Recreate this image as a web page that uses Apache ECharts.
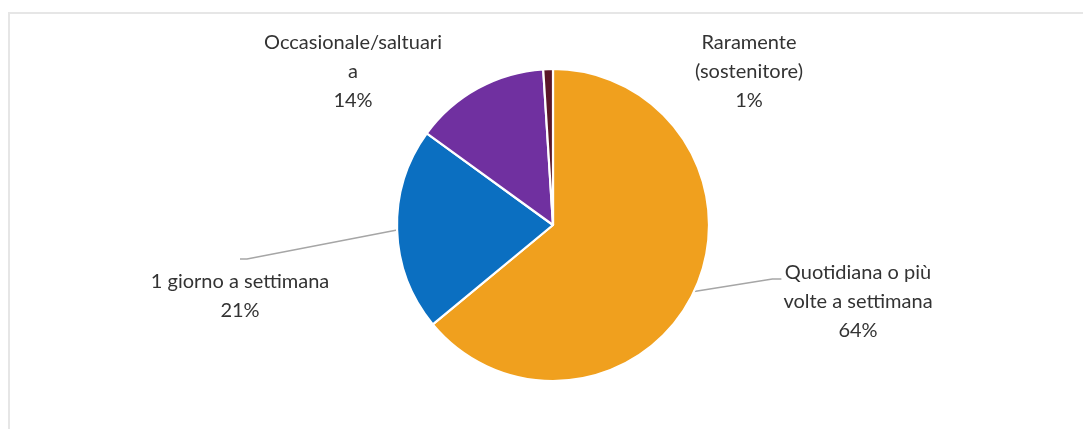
<!DOCTYPE html>
<html>
<head>
<meta charset="utf-8">
<script src="https://cdn.jsdelivr.net/npm/echarts@6/dist/echarts.min.js"></script>
<style>
  html, body { margin: 0; padding: 0; background: #fff; overflow: hidden; }
  #frame { position: absolute; left: 8px; top: 12px; width: 1100px; height: 440px;
           border-top: 2px solid #e6e6e6; border-left: 2px solid #e6e6e6; }
  #chart { position: absolute; left: 0; top: 0; width: 1083px; height: 429px; }
</style>
</head>
<body>
<div id="frame"></div>
<div id="chart"></div>
<script>
// Frequenza di partecipazione (quota di rispondenti, %)
const categories = [
  'Quotidiana o più\nvolte a settimana',
  '1 giorno a settimana',
  'Occasionale/saltuari\na',
  'Raramente\n(sostenitore)'
];
const shares = [64, 21, 14, 1];
const sliceColors = ['#f0a01e', '#0b6fc1', '#7030a0', '#5a1628'];

// Where each label block is centred, and whether it gets a leader line
const labelSpots = [
  { x: 858, y: 302, line: 'left' },
  { x: 240, y: 296, line: 'top' },
  { x: 353, y: 72 },
  { x: 749, y: 72 }
];

const chart = echarts.init(document.getElementById('chart'), null, { renderer: 'canvas' });

chart.setOption({
  animation: false,
  backgroundColor: 'transparent',
  series: [{
    type: 'pie',
    center: [553, 225],
    radius: 156,
    startAngle: 90,
    clockwise: true,
    avoidLabelOverlap: false,
    itemStyle: { borderColor: '#ffffff', borderWidth: 2.2 },
    label: {
      show: true,
      position: 'outside',
      formatter: '{b}\n{d}%',
      fontFamily: 'Lato, "Open Sans", sans-serif',
      fontSize: 20,
      lineHeight: 29,
      color: '#333333',
      align: 'center'
    },
    labelLine: {
      show: true,
      length: 20,
      length2: 10,
      smooth: false,
      lineStyle: { color: '#a6a6a6', width: 1.5 }
    },
    labelLayout: function (params) {
      const spot = labelSpots[params.dataIndex];
      const w = params.labelRect.width;
      const h = params.labelRect.height;
      const out = { x: spot.x, y: spot.y, align: 'center', verticalAlign: 'middle' };
      const start = params.labelLinePoints ? params.labelLinePoints[0] : null;
      if (spot.line === 'top' && start) {
        const ty = spot.y - h / 2 - 8;
        out.labelLinePoints = [start, [spot.x + 7, ty], [spot.x, ty]];
      } else if (spot.line === 'left' && start) {
        const lx = spot.x - w / 2 - 2;
        const ly = spot.y - 23;
        out.labelLinePoints = [start, [lx - 9, ly], [lx, ly]];
      } else {
        out.labelLinePoints = start ? [start, start, start] : undefined;
      }
      return out;
    },
    data: categories.map((name, i) => ({
      name: name,
      value: shares[i],
      itemStyle: { color: sliceColors[i] },
      labelLine: { show: !!labelSpots[i].line }
    }))
  }]
});
</script>
</body>
</html>
